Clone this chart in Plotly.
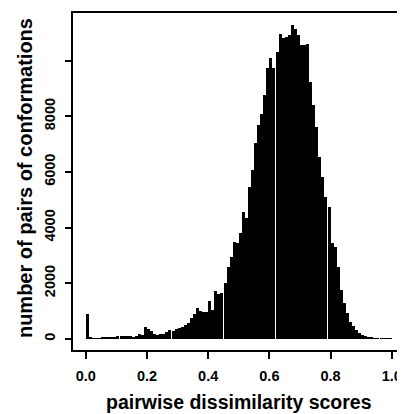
import plotly.graph_objects as go

# histogram of pairwise dissimilarity scores, bins of width 0.01 (left edges)
bin_left = [i / 100 for i in range(100)]
counts = [
    880, 40, 30, 30, 30, 40, 50, 50, 60, 70,
    100, 110, 100, 90, 100, 80, 90, 160, 130, 430,
    340, 280, 170, 130, 180, 170, 250, 310, 270, 340,
    390, 440, 500, 580, 760, 880, 1120, 1000, 960, 970,
    1370, 1020, 1720, 1600, 1650, 2000, 2600, 2950, 3490, 3430,
    3800, 4570, 4330, 5470, 6080, 7040, 7680, 8070, 8760, 9750,
    10080, 9750, 10310, 10940, 10820, 10850, 10910, 11270, 11150, 10910,
    10550, 10550, 10610, 9240, 8400, 7600, 6550, 5830, 5110, 4750,
    3440, 3310, 2600, 1760, 1280, 920, 620, 450, 320, 200,
    140, 90, 60, 40, 30, 25, 20, 20, 15, 10,
]
bin_width = 0.01

x_ticks = [0.0, 0.2, 0.4, 0.6, 0.8, 1.0]
x_ticktext = ["0.0", "0.2", "0.4", "0.6", "0.8", "1.0"]
y_ticks = [0, 2000, 4000, 6000, 8000, 10000]
y_ticktext = ["0", "2000", "4000", "6000", "8000", ""]

centers = [b + bin_width / 2 for b in bin_left]

fig = go.Figure(go.Bar(
    x=centers,
    y=counts,
    width=bin_width * 0.97,
    marker=dict(color="black", line=dict(width=0)),
    showlegend=False,
))

font_family = "Liberation Sans, Arial, sans-serif"

# the page body adds an 8px margin, so the figure is 8px smaller than the window
fig.update_layout(
    width=397, height=406,
    margin=dict(l=65, r=5, t=5, b=64),
    plot_bgcolor="white", paper_bgcolor="white",
    font=dict(family=font_family, color="black"),
    bargap=0,
    xaxis=dict(
        range=[-0.042, 1.027],
        tickvals=x_ticks, ticktext=x_ticktext,
        ticks="outside", ticklen=7, tickwidth=1.5, tickcolor="black",
        showline=True, linecolor="black", linewidth=1.5, mirror=True,
        showgrid=False, zeroline=False, automargin=False,
        ticklabelstandoff=5,
        tickfont=dict(size=14.5, family=font_family, weight="bold"),
    ),
    yaxis=dict(
        range=[-400, 11710],
        tickvals=y_ticks, ticktext=y_ticktext,
        tickangle=-90,
        ticks="outside", ticklen=6, tickwidth=1.5, tickcolor="black",
        showline=True, linecolor="black", linewidth=1.5, mirror=True,
        showgrid=False, zeroline=False, automargin=False,
        ticklabelstandoff=4,
        tickfont=dict(size=14.5, family=font_family, weight="bold"),
    ),
    annotations=[
        dict(text="pairwise dissimilarity scores", xref="paper", yref="paper",
             x=0.508, y=-0.154, xanchor="center", yanchor="middle", showarrow=False,
             font=dict(size=19.5, family=font_family, weight="bold")),
        dict(text="number of pairs of conformations", xref="paper", yref="paper",
             x=-0.147, y=0.51, xanchor="center", yanchor="middle", showarrow=False,
             textangle=-90,
             font=dict(size=20, family=font_family, weight="bold")),
    ],
)

fig.write_html("out.html")
